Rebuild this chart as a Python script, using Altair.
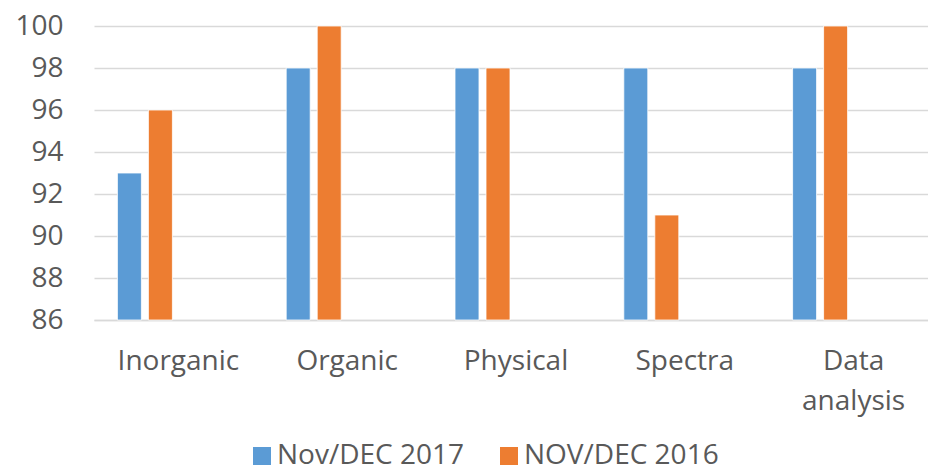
import altair as alt
import pandas as pd

categories = ["Inorganic", "Organic", "Physical", "Spectra", "Data analysis"]
series_names = ["Nov/DEC 2017", "NOV/DEC 2016"]
values_2017 = [93, 98, 98, 98, 98]
values_2016 = [96, 100, 98, 91, 100]
y_ticks = [86, 88, 90, 92, 94, 96, 98, 100]
colors = ["#5B9BD5", "#ED7D31"]

rows = []
for c, a, b in zip(categories, values_2017, values_2016):
    rows.append({"category": c, "series": series_names[0], "value": a})
    rows.append({"category": c, "series": series_names[1], "value": b})
df = pd.DataFrame(rows)

FONT = "Open Sans"
TEXT = "#595959"
GRID = "#d9d9d9"
W = 844
H = 294

chart = alt.Chart(df).mark_bar(stroke="white", strokeWidth=0.8).encode(
    x=alt.X("category:N", sort=categories, title=None,
            scale=alt.Scale(paddingInner=0, paddingOuter=0),
            axis=alt.Axis(labelAngle=0, labelFont=FONT, labelFontSize=28,
                          labelColor=TEXT, ticks=False, domainColor=GRID,
                          domainWidth=1.5, labelPadding=27, grid=False,
                          labelLineHeight=40, labelLimit=0,
                          labelExpr="datum.label == 'Data analysis' ? ['Data', 'analysis'] : datum.label")),
    xOffset=alt.XOffset("series:N", sort=series_names,
                        scale=alt.Scale(range=[23.4, 78.4], paddingInner=0.226, paddingOuter=0)),
    y=alt.Y("value:Q", title=None,
            scale=alt.Scale(domain=[y_ticks[0], y_ticks[-1]], zero=False, nice=False),
            axis=alt.Axis(values=y_ticks, labelFont=FONT, labelFontSize=28,
                          labelColor=TEXT, ticks=False, domain=False,
                          gridColor=GRID, gridWidth=1.5, labelPadding=31)),
    y2=alt.datum(y_ticks[0]),
    color=alt.Color("series:N", sort=series_names,
                    scale=alt.Scale(domain=series_names, range=colors),
                    legend=alt.Legend(title=None, orient="none", direction="horizontal",
                                      legendX=154, legendY=416,
                                      symbolType="square", symbolSize=324,
                                      symbolStrokeWidth=0, labelFont=FONT,
                                      labelFontSize=28, labelColor=TEXT,
                                      labelLimit=0,
                                      labelOffset=1, columnPadding=30)),
).properties(
    width=W, height=H,
    autosize=alt.AutoSizeParams(type="none"),
    padding={"left": 86, "top": 18, "right": -10, "bottom": 147},
).configure_view(stroke=None)

chart.save("out.html", embed_options={"renderer": "svg", "actions": False})
